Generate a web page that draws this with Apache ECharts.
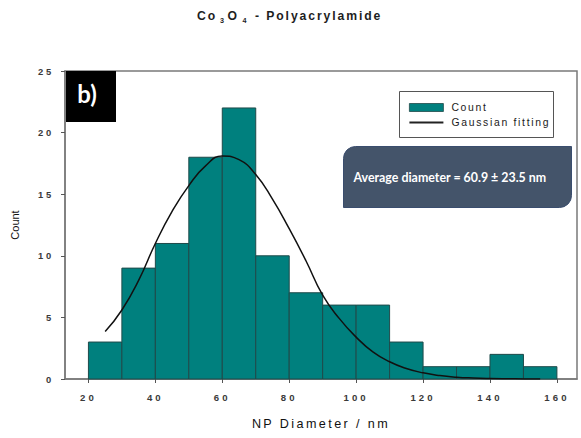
<!DOCTYPE html>
<html>
<head>
<meta charset="utf-8">
<script src="https://cdn.jsdelivr.net/npm/echarts@6/dist/echarts.min.js"></script>
<style>
  html, body { margin: 0; padding: 0; background: #fff; }
  #chart { width: 581px; height: 438px; }
  #chart text { white-space: pre; }
  /* tracking for the wide-spaced typefaces, keyed on their font sizes */
  #chart text[style*="12.2px"], #chart text[style*="7.2px"] { letter-spacing: 1.9px; }
  #chart text[style*="12.6px"] { letter-spacing: 2.4px; }
  #chart text[style*="9.6px"] { letter-spacing: 3.1px; }
  #chart text[style*="9.4px"] { letter-spacing: 2.8px; }
  #chart text[style*="10.4px"] { letter-spacing: 1.7px; }
</style>
</head>
<body>
<div id="chart"></div>
<script>
// Histogram bins (lower edge, nm) and their counts
const binStart = [20, 30, 40, 50, 60, 70, 80, 90, 100, 110, 120, 130, 140, 150];
const binWidth = 10;
const counts   = [3, 9, 11, 18, 22, 10, 7, 6, 6, 3, 1, 1, 2, 1];

// Gaussian fit curve, sampled along the diameter axis
const fitX = [25, 30, 35, 40, 45, 50, 55, 60, 65, 70, 75, 80, 85, 90, 95, 100,
              105, 110, 115, 120, 125, 130, 135, 140, 145, 150, 155];
const fitY = [3.85, 5.6, 8.0, 11.0, 13.6, 15.7, 17.3, 18.1, 17.8, 16.6, 14.6, 12.2, 9.6, 6.8, 4.9, 3.4,
              2.2, 1.4, 0.85, 0.5, 0.28, 0.15, 0.08, 0.04, 0.02, 0.01, 0.0];

// Axis ticks
const xTicks = [20, 40, 60, 80, 100, 120, 140, 160];
const yTicks = [0, 5, 10, 15, 20, 25];

const histData = binStart.map((s, i) => [s, s + binWidth, counts[i]]);
const fitData = fitX.map((x, i) => [x, fitY[i]]);

const titleFont = { fontFamily: 'Liberation Sans', fontWeight: 'bold', fontSize: 12.2, fill: '#1e1e1e', verticalAlign: 'middle' };
const subFont = { fontFamily: 'Liberation Sans', fontWeight: 'bold', fontSize: 7.2, fill: '#1e1e1e', verticalAlign: 'middle' };

const chart = echarts.init(document.getElementById('chart'), null, { renderer: 'svg' });

chart.setOption({
  backgroundColor: '#fff',
  animation: false,
  grid: {
    left: 65, top: 71, width: 512, height: 308,
    show: true, borderColor: '#7a7a7a', borderWidth: 1.5,
    outerBoundsMode: 'none'
  },
  legend: {
    left: 409, top: 101, orient: 'vertical', padding: 0,
    itemWidth: 34, itemHeight: 8, itemGap: 2,
    textStyle: { fontFamily: 'Liberation Sans', fontSize: 10.4, color: '#1a1a1a', lineHeight: 13, padding: [0, 0, 0, 3] },
    data: [
      { name: 'Count', icon: 'rect', itemStyle: { color: '#00807e', borderColor: '#1f4a4a', borderWidth: 0.8 } },
      { name: 'Gaussian fitting', icon: 'path://M0,0H34V2H0Z', itemStyle: { color: '#222' } }
    ]
  },
  xAxis: {
    type: 'value', min: 13, max: 166,
    name: 'NP Diameter / nm', nameLocation: 'middle', nameGap: 38,
    nameTextStyle: { fontFamily: 'Liberation Sans', fontSize: 12.6, color: '#111' },
    axisLine: { show: true, lineStyle: { color: '#7a7a7a', width: 1.5 } },
    axisTick: { show: true, length: 4, customValues: xTicks, lineStyle: { color: '#555', width: 1 } },
    axisLabel: { customValues: xTicks, margin: 13, fontFamily: 'Liberation Sans', fontWeight: 'bold', fontSize: 9.6, color: '#3a3a3a' },
    splitLine: { show: false }
  },
  yAxis: {
    type: 'value', min: 0, max: 25, interval: 5,
    name: 'Count', nameLocation: 'middle', nameGap: 45,
    nameTextStyle: { fontFamily: 'Liberation Sans', fontSize: 11, color: '#111' },
    axisLine: { show: true, lineStyle: { color: '#7a7a7a', width: 1.5 } },
    axisTick: { show: true, length: 4, lineStyle: { color: '#555', width: 1 } },
    axisLabel: { margin: 11, fontFamily: 'Liberation Sans', fontWeight: 'bold', fontSize: 9.4, color: '#3a3a3a', customValues: yTicks },
    splitLine: { show: false }
  },
  series: [
    {
      name: 'Count',
      type: 'custom',
      data: histData,
      encode: { x: [0, 1], y: 2 },
      itemStyle: { color: '#00807e', borderColor: '#1f4a4a', borderWidth: 1 },
      z: 2,
      renderItem: function (params, api) {
        const top = api.coord([api.value(0), api.value(2)]);
        const bottom = api.coord([api.value(1), 0]);
        return {
          type: 'rect',
          shape: { x: top[0], y: top[1], width: bottom[0] - top[0], height: bottom[1] - top[1] },
          style: api.style()
        };
      }
    },
    {
      name: 'Gaussian fitting',
      type: 'line',
      data: fitData,
      smooth: true,
      symbol: 'none',
      z: 3,
      itemStyle: { color: '#111' },
      lineStyle: { color: '#111', width: 1.5 }
    }
  ],
  graphic: [
    // chart title: Co3O4 with subscripts
    {
      type: 'group', x: 197, y: 0, z: 10,
      children: [
        { type: 'text', x: 0, y: 16.3, style: Object.assign({ text: 'Co' }, titleFont) },
        { type: 'text', x: 23, y: 20.5, style: Object.assign({ text: '3' }, subFont) },
        { type: 'text', x: 30.5, y: 16.3, style: Object.assign({ text: 'O' }, titleFont) },
        { type: 'text', x: 45.5, y: 20.5, style: Object.assign({ text: '4' }, subFont) },
        { type: 'text', x: 58, y: 16.3, style: Object.assign({ text: '- Polyacrylamide' }, titleFont) }
      ]
    },
    // panel tag
    {
      type: 'group', left: 66, top: 71, z: 10,
      children: [
        { type: 'rect', shape: { x: 0, y: 0, width: 50, height: 51 }, style: { fill: '#000' } },
        { type: 'text', x: 21, y: 22, style: { text: 'b)', fontFamily: 'Lato', fontWeight: 'bold', fontSize: 24, fill: '#fff', align: 'center', verticalAlign: 'middle' } }
      ]
    },
    // legend frame
    {
      type: 'rect', left: 399, top: 91, z: 0,
      shape: { width: 154, height: 46 },
      style: { fill: '#fff', stroke: '#555', lineWidth: 1 }
    },
    // average-diameter callout
    {
      type: 'group', left: 343, top: 146, z: 10,
      children: [
        { type: 'rect', shape: { x: 0, y: 0, width: 228, height: 61, r: [12, 0, 12, 0] }, style: { fill: '#44546a', stroke: '#3a4d6e', lineWidth: 1 } },
        { type: 'text', x: 10, y: 31, style: { text: 'Average diameter = 60.9 \u00b1 23.5 nm', fontFamily: 'Lato', fontWeight: 'bold', fontSize: 12.4, fill: '#fff', align: 'left', verticalAlign: 'middle' } }
      ]
    }
  ]
});
</script>
</body>
</html>
